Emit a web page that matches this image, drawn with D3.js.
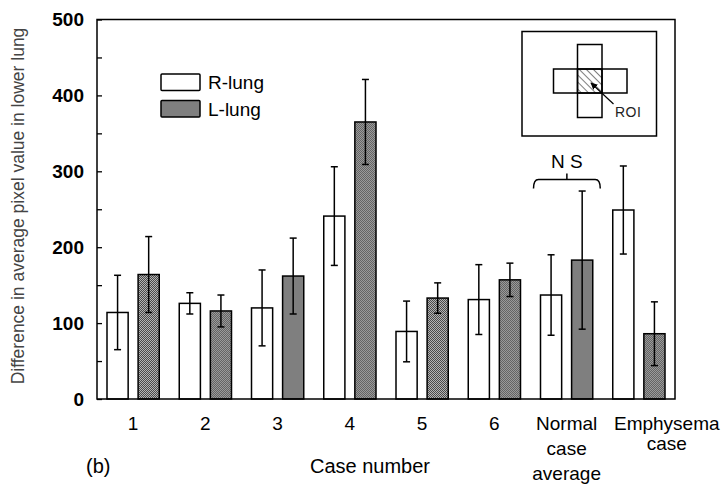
<!DOCTYPE html>
<html>
<head>
<meta charset="utf-8">
<script src="https://cdn.jsdelivr.net/npm/d3@7"></script>
<style>
  html, body { margin: 0; padding: 0; background: #fff; }
  svg { display: block; }
  text { font-family: "Liberation Sans", Arial, sans-serif; }
</style>
</head>
<body>
<svg id="chart" width="726" height="488"></svg>
<script>
// ---- data ----
const categories = ["1", "2", "3", "4", "5", "6", "Normal case average", "Emphysema case"];
const categoryLines = [["1"], ["2"], ["3"], ["4"], ["5"], ["6"], ["Normal", "case", "average"], ["Emphysema", "case"]];
const series = ["R-lung", "L-lung"];
const rLung = [114, 126, 120, 241, 89, 131, 137, 249];
const rErr  = [49, 14, 50, 65, 40, 46, 53, 58];
const lLung = [164, 116, 162, 365, 133, 157, 183, 86];
const lErr  = [50, 21, 50, 56, 20, 22, 91, 42];
const yTicks = [0, 100, 200, 300, 400, 500];
const yMinorTicks = [50, 150, 250, 350, 450];
const yTitle = "Difference in average pixel value in lower lung";
const xTitle = "Case number";
const panelLabel = "(b)";
const nsLabel = "N S";
const roiLabel = "ROI";

// ---- layout ----
const svg = d3.select("#chart");
const pLeft = 97, pRight = 675, pTop = 19.5, pBottom = 399;

const x = d3.scaleBand().domain(categories).range([pLeft, pRight]).padding(0);
const xSub = d3.scaleBand().domain(series).range([10, x.bandwidth() - 10]).paddingInner(0.32).paddingOuter(0);
const y = d3.scaleLinear().domain([0, 500]).range([pBottom, pTop]);

// patterns
const defs = svg.append("defs");
const pat = defs.append("pattern").attr("id", "dots").attr("patternUnits", "userSpaceOnUse")
  .attr("width", 2).attr("height", 2);
pat.append("rect").attr("width", 2).attr("height", 2).attr("fill", "#b4b4b4");
pat.append("rect").attr("x", 0).attr("y", 0).attr("width", 1).attr("height", 1).attr("fill", "#4a4a4a");
pat.append("rect").attr("x", 1).attr("y", 1).attr("width", 1).attr("height", 1).attr("fill", "#4a4a4a");

const hatch = defs.append("pattern").attr("id", "hatch").attr("patternUnits", "userSpaceOnUse")
  .attr("width", 5).attr("height", 5).attr("patternTransform", "rotate(-45)");
hatch.append("line").attr("x1", 0).attr("y1", 0).attr("x2", 0).attr("y2", 5)
  .attr("stroke", "#000").attr("stroke-width", 1);

const marker = defs.append("marker").attr("id", "arrow").attr("viewBox", "0 0 10 10")
  .attr("refX", 9).attr("refY", 5).attr("markerWidth", 7).attr("markerHeight", 7)
  .attr("markerUnits", "userSpaceOnUse").attr("orient", "auto");
marker.append("path").attr("d", "M0,0 L10,5 L0,10 z").attr("fill", "#000");

// y axis ticks (inward)
const yAxis = d3.axisRight(y).tickValues(yTicks.concat(yMinorTicks)).tickSize(5).tickFormat("");
const gy = svg.append("g").attr("transform", `translate(${pLeft},0)`).call(yAxis);
gy.select(".domain").remove();
gy.selectAll(".tick line").attr("stroke", "#000").attr("stroke-width", 1.3);

// y tick labels
svg.append("g").selectAll("text").data(yTicks).join("text")
  .attr("x", 84).attr("y", d => y(d)).attr("dy", "0.36em")
  .attr("text-anchor", "end").attr("font-size", 19).attr("font-weight", "bold")
  .text(d => d);

// bars
const rows = categories.map((c, i) => ({
  cat: c,
  vals: [
    { s: "R-lung", v: rLung[i], e: rErr[i] },
    { s: "L-lung", v: lLung[i], e: lErr[i] }
  ]
}));

const groups = svg.append("g").selectAll("g").data(rows).join("g")
  .attr("transform", d => `translate(${x(d.cat)},0)`);

groups.selectAll("rect").data(d => d.vals).join("rect")
  .attr("x", d => xSub(d.s)).attr("width", xSub.bandwidth())
  .attr("y", d => y(d.v)).attr("height", d => y(0) - y(d.v))
  .attr("fill", d => d.s === "R-lung" ? "#fff" : "url(#dots)")
  .attr("stroke", "#000").attr("stroke-width", 1.5);

// error bars
const eb = groups.selectAll("g.err").data(d => d.vals).join("g").attr("class", "err");
const cap = 3.5;
const cxOf = d => xSub(d.s) + xSub.bandwidth() / 2;
eb.append("line")
  .attr("x1", cxOf).attr("x2", cxOf)
  .attr("y1", d => y(d.v - d.e)).attr("y2", d => y(d.v + d.e))
  .attr("stroke", "#000").attr("stroke-width", 1.5);
eb.append("line")
  .attr("x1", d => cxOf(d) - cap).attr("x2", d => cxOf(d) + cap)
  .attr("y1", d => y(d.v + d.e)).attr("y2", d => y(d.v + d.e))
  .attr("stroke", "#000").attr("stroke-width", 1.5);
eb.append("line")
  .attr("x1", d => cxOf(d) - cap).attr("x2", d => cxOf(d) + cap)
  .attr("y1", d => y(d.v - d.e)).attr("y2", d => y(d.v - d.e))
  .attr("stroke", "#000").attr("stroke-width", 1.5);

// frame
svg.append("rect").attr("x", pLeft).attr("y", pTop).attr("width", pRight - pLeft).attr("height", pBottom - pTop)
  .attr("fill", "none").attr("stroke", "#000").attr("stroke-width", 1.5);

// x labels
const lastIdx = categories.length - 1;
svg.append("g").selectAll("text").data(categories).join("text")
  .attr("font-size", 19)
  .attr("transform", (d, i) => {
    const cx = i === lastIdx ? x(d) + xSub("R-lung") + 54 : x(d) + x.bandwidth() / 2;
    return `translate(${cx},430)`;
  })
  .attr("text-anchor", "middle")
  .each(function (d, i) {
    const lines = categoryLines[i];
    const t = d3.select(this);
    const lh = i === lastIdx ? 20 : 25;
    lines.forEach((ln, k) => {
      t.append("tspan").attr("x", 0).attr("y", k * lh).text(ln);
    });
  });

// axis titles
svg.append("text").attr("x", 370).attr("y", 473).attr("text-anchor", "middle")
  .attr("font-size", 20).text(xTitle);
svg.append("text").attr("x", 86).attr("y", 473).attr("font-size", 20).text(panelLabel);
svg.append("text").attr("transform", `translate(24,${(24 + 388) / 2}) rotate(-90)`)
  .attr("text-anchor", "middle").attr("font-size", 17.5).attr("fill", "#444").text(yTitle);

// legend
const legend = svg.append("g").selectAll("g").data(series).join("g")
  .attr("transform", (d, i) => `translate(161,${74 + i * 26.5})`);
legend.append("rect").attr("width", 39).attr("height", 16.5)
  .attr("fill", d => d === "R-lung" ? "#fff" : "url(#dots)")
  .attr("stroke", "#000").attr("stroke-width", 1.5).attr("rx", 1);
legend.append("text").attr("x", 47).attr("y", 15).attr("font-size", 19).text(d => d);

// NS bracket over Normal case average
const nc = x(categories[6]);
const bx1 = nc + 3, bx2 = nc + x.bandwidth() - 2.5, by = 179.5, bmid = (bx1 + bx2) / 2;
svg.append("path")
  .attr("d", `M${bx1},${by + 9} Q${bx1},${by} ${bx1 + 5},${by} L${bx2 - 5},${by} Q${bx2},${by} ${bx2},${by + 9}`)
  .attr("fill", "none").attr("stroke", "#000").attr("stroke-width", 1.5);
svg.append("line").attr("x1", bmid).attr("x2", bmid).attr("y1", by).attr("y2", by - 6)
  .attr("stroke", "#000").attr("stroke-width", 1.5);
svg.append("text").attr("x", bmid).attr("y", 168).attr("text-anchor", "middle")
  .attr("font-size", 19).text(nsLabel);

// inset diagram
const inset = svg.append("g");
inset.append("rect").attr("x", 522).attr("y", 31.5).attr("width", 134.5).attr("height", 104.5)
  .attr("fill", "#fff").attr("stroke", "#000").attr("stroke-width", 1.5);
inset.append("rect").attr("x", 577.5).attr("y", 44.5).attr("width", 24.5).attr("height", 73)
  .attr("fill", "none").attr("stroke", "#000").attr("stroke-width", 1.5);
inset.append("rect").attr("x", 553.5).attr("y", 69).attr("width", 73.5).attr("height", 24)
  .attr("fill", "none").attr("stroke", "#000").attr("stroke-width", 1.5);
inset.append("rect").attr("x", 577.5).attr("y", 69).attr("width", 24.5).attr("height", 24)
  .attr("fill", "url(#hatch)").attr("stroke", "#000").attr("stroke-width", 1.5);
inset.append("line").attr("x1", 613.5).attr("y1", 104).attr("x2", 591).attr("y2", 83)
  .attr("stroke", "#000").attr("stroke-width", 1.2).attr("marker-end", "url(#arrow)");
inset.append("text").attr("x", 615).attr("y", 116.5).attr("font-size", 14).attr("fill", "#222")
  .attr("letter-spacing", 0.5).text(roiLabel);
</script>
</body>
</html>
